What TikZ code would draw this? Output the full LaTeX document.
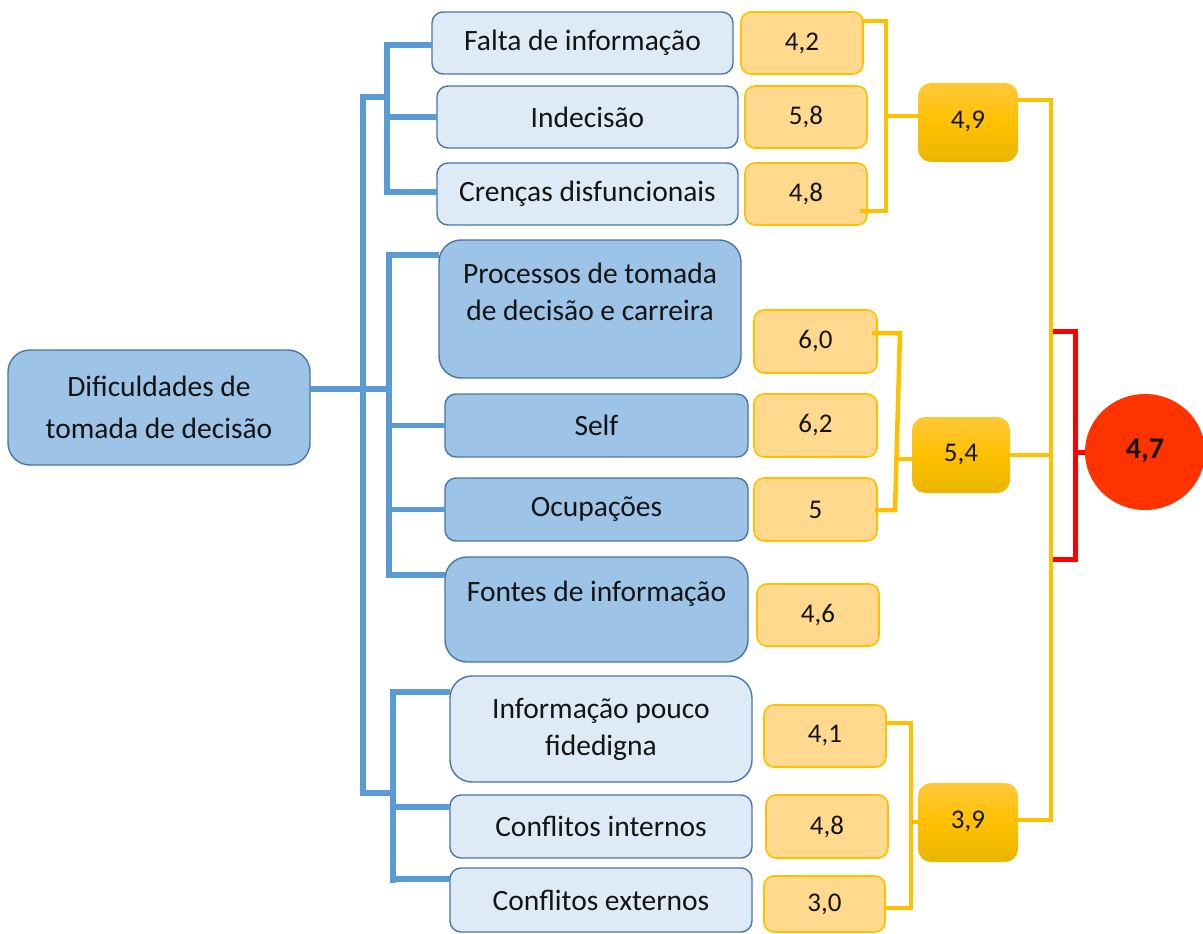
\documentclass[tikz,border=0pt]{standalone}
\usepackage{fontspec}
\setmainfont{Carlito}
\usetikzlibrary{shapes.geometric}
\definecolor{lblue}{HTML}{DEEBF7}
\definecolor{mblue}{HTML}{9DC3E6}
\definecolor{bblue}{HTML}{4A75A5}
\definecolor{cblue}{HTML}{5B9BD5}
\definecolor{vfill}{HTML}{FFD98E}
\definecolor{gold}{HTML}{FFC000}
\definecolor{gtop}{HTML}{FFC83A}
\definecolor{gbot}{HTML}{E8B600}
\definecolor{txt}{HTML}{141414}
\definecolor{tomato}{HTML}{FF3300}
\begin{document}
\begin{tikzpicture}[x=1pt,y=-1pt,
  base/.style={rounded corners=11pt, inner sep=0pt, outer sep=0pt, align=center, text=txt, font=\fontsize{29.5}{37}\selectfont},
  sz/.style 2 args={minimum width=#1pt, minimum height=#2pt},
  light/.style={base, draw=bblue, fill=lblue, line width=1.4pt},
  dark/.style={base, draw=bblue, fill=mblue, line width=1.4pt},
  tall/.style={rounded corners=22pt},
  lbl/.style={inner sep=0pt, align=center, text=txt, font=\fontsize{29.5}{37}\selectfont},
  val/.style={base, draw=gold, fill=vfill, line width=1.6pt, rounded corners=10pt, font=\fontsize{27}{32}\selectfont},
  grp/.style={base, top color=gtop, bottom color=gbot, middle color=gold, draw=none, rounded corners=13pt, font=\fontsize{27}{32}\selectfont},
  bl/.style={draw=cblue, line width=5.5pt},
  yl/.style={draw=gold, line width=4.5pt},
  rd/.style={draw=red, line width=5pt},
]
\useasboundingbox (0,0) rectangle (1203,934);

% category boxes
\node[dark, tall, sz={302}{115}, font=\fontsize{29.5}{42}\selectfont] (root) at (159,407.5) {Dificuldades de\\tomada de decisão};
\node[light, sz={301}{62}] (falta) at (582.5,43) {Falta de informação};
\node[light, sz={301}{62}] (indec) at (587.5,117) {Indecisão};
\node[light, sz={301}{62}] (cren) at (587.5,194) {Crenças disfuncionais};
\node[dark, tall, sz={302}{138}] (proc) at (590,309) {};
\node[lbl] (proct) at (590,292) {Processos de tomada\\de decisão e carreira};
\node[dark, sz={303}{63}] (self) at (596.5,425.5) {Self};
\node[dark, sz={303}{63}] (ocup) at (596.5,509.5) {Ocupações};
\node[dark, tall, sz={303}{105}] (fontes) at (596.5,609.5) {};
\node[lbl] (fontest) at (596.5,594) {Fontes de informação};
\node[light, tall, sz={302}{106}] (infor) at (601,729) {Informação pouco\\fidedigna};
\node[light, sz={302}{63}] (cint) at (601,826.5) {Conflitos internos};
\node[light, sz={302}{64}] (cext) at (601,900) {Conflitos externos};

% value boxes
\node[val, sz={122}{62}] (v42) at (802,43) {4,2};
\node[val, sz={122}{62}] (v58) at (806,117) {5,8};
\node[val, sz={122}{62}] (v48a) at (806,194) {4,8};
\node[val, sz={123}{63}] (v60) at (815.5,341.5) {6,0};
\node[val, sz={123}{63}] (v62) at (815.5,425.5) {6,2};
\node[val, sz={123}{63}] (v5) at (815.5,509.5) {5};
\node[val, sz={122}{62}] (v46) at (818,615) {4,6};
\node[val, sz={122}{62}] (v41) at (825,736) {4,1};
\node[val, sz={122}{63}] (v48b) at (827,826.5) {4,8};
\node[val, sz={121}{56}] (v30) at (824.5,904) {3,0};

% group boxes
\node[grp, sz={100}{79}] (g49) at (968,122.5) {\raisebox{5pt}{4,9}};
\node[grp, sz={98}{76}] (g54) at (961,455) {\raisebox{4pt}{5,4}};
\node[grp, sz={100}{79}] (g39) at (968,822.5) {\raisebox{6pt}{3,9}};
\node[ellipse, fill=tomato, minimum width=120pt, minimum height=116pt, inner sep=0pt, text=txt, font=\fontsize{30}{34}\selectfont\bfseries] (tot) at (1145,452) {\raisebox{6pt}{4,7}};

% blue connectors
\coordinate (trT) at (363,97);
\coordinate (trB) at (363,793);
\coordinate (g1T) at (387,45);
\coordinate (g1B) at (387,192);
\coordinate (j0) at (389,389);
\coordinate (g2T) at (389,255);
\coordinate (g2B) at (389,575);
\coordinate (g3T) at (393,692);
\coordinate (g3B) at (393,883);
\coordinate (ci) at (393,807);
\coordinate (ce) at (393,879);
\draw[bl] (falta.west |- g1T) -- (g1T) -- (g1B) -- (cren.west |- g1B);
\draw[bl] (indec.west) -- (indec.west -| g1T);
\draw[bl] (trT -| g1T) -- (trT) -- (trB) -- (trB -| g3T);
\draw[bl] (root.east |- j0) -- (j0);
\draw[bl] (proc.west |- g2T) -- (g2T) -- (g2B) -- (fontes.west |- g2B);
\draw[bl] (self.west) -- (self.west -| g2T);
\draw[bl] (ocup.west) -- (ocup.west -| g2T);
\draw[bl] (infor.west |- g3T) -- (g3T) -- (g3B);
\draw[bl] (cint.west |- ci) -- (ci);
\draw[bl] (cext.west |- ce) -- (ce);

% yellow connectors
\coordinate (a1) at (886,21);
\coordinate (a2) at (886,211);
\coordinate (am) at (886,116);
\coordinate (b1) at (900,333);
\coordinate (b2) at (895,510);
\coordinate (bm) at (896,459);
\coordinate (c1) at (911,723);
\coordinate (c2) at (911,908);
\coordinate (cm) at (911,822);
\coordinate (T1) at (1051,100);
\coordinate (T2) at (1051,820);
\coordinate (r1) at (1075,331);
\coordinate (r2) at (1075,559);
\draw[yl] (v42.east |- a1) -- (a1) -- (a2) -- ([xshift=-7pt]v48a.east |- a2);
\draw[yl] (am) -- (am -| g49.west);
\draw[yl] ([xshift=-5pt]v60.east |- b1) -- (b1) -- (b2) -- ([xshift=-2pt]v5.east |- b2);
\draw[yl] (bm) -- (bm -| g54.west);
\draw[yl] (v41.east |- c1) -- (c1) -- (c2) -- (v30.east |- c2);
\draw[yl] (cm) -- (cm -| g39.west);
\draw[rd] (T1 |- r1) -- (r1) -- (r2) -- (T1 |- r2);
\draw[rd] (r1 |- tot.west) -- (tot.west);
\draw[yl] (g49.east |- T1) -- (T1) -- (T2) -- (g39.east |- T2);
\draw[yl] (g54.east) -- (g54.east -| T1);
\end{tikzpicture}
\end{document}
